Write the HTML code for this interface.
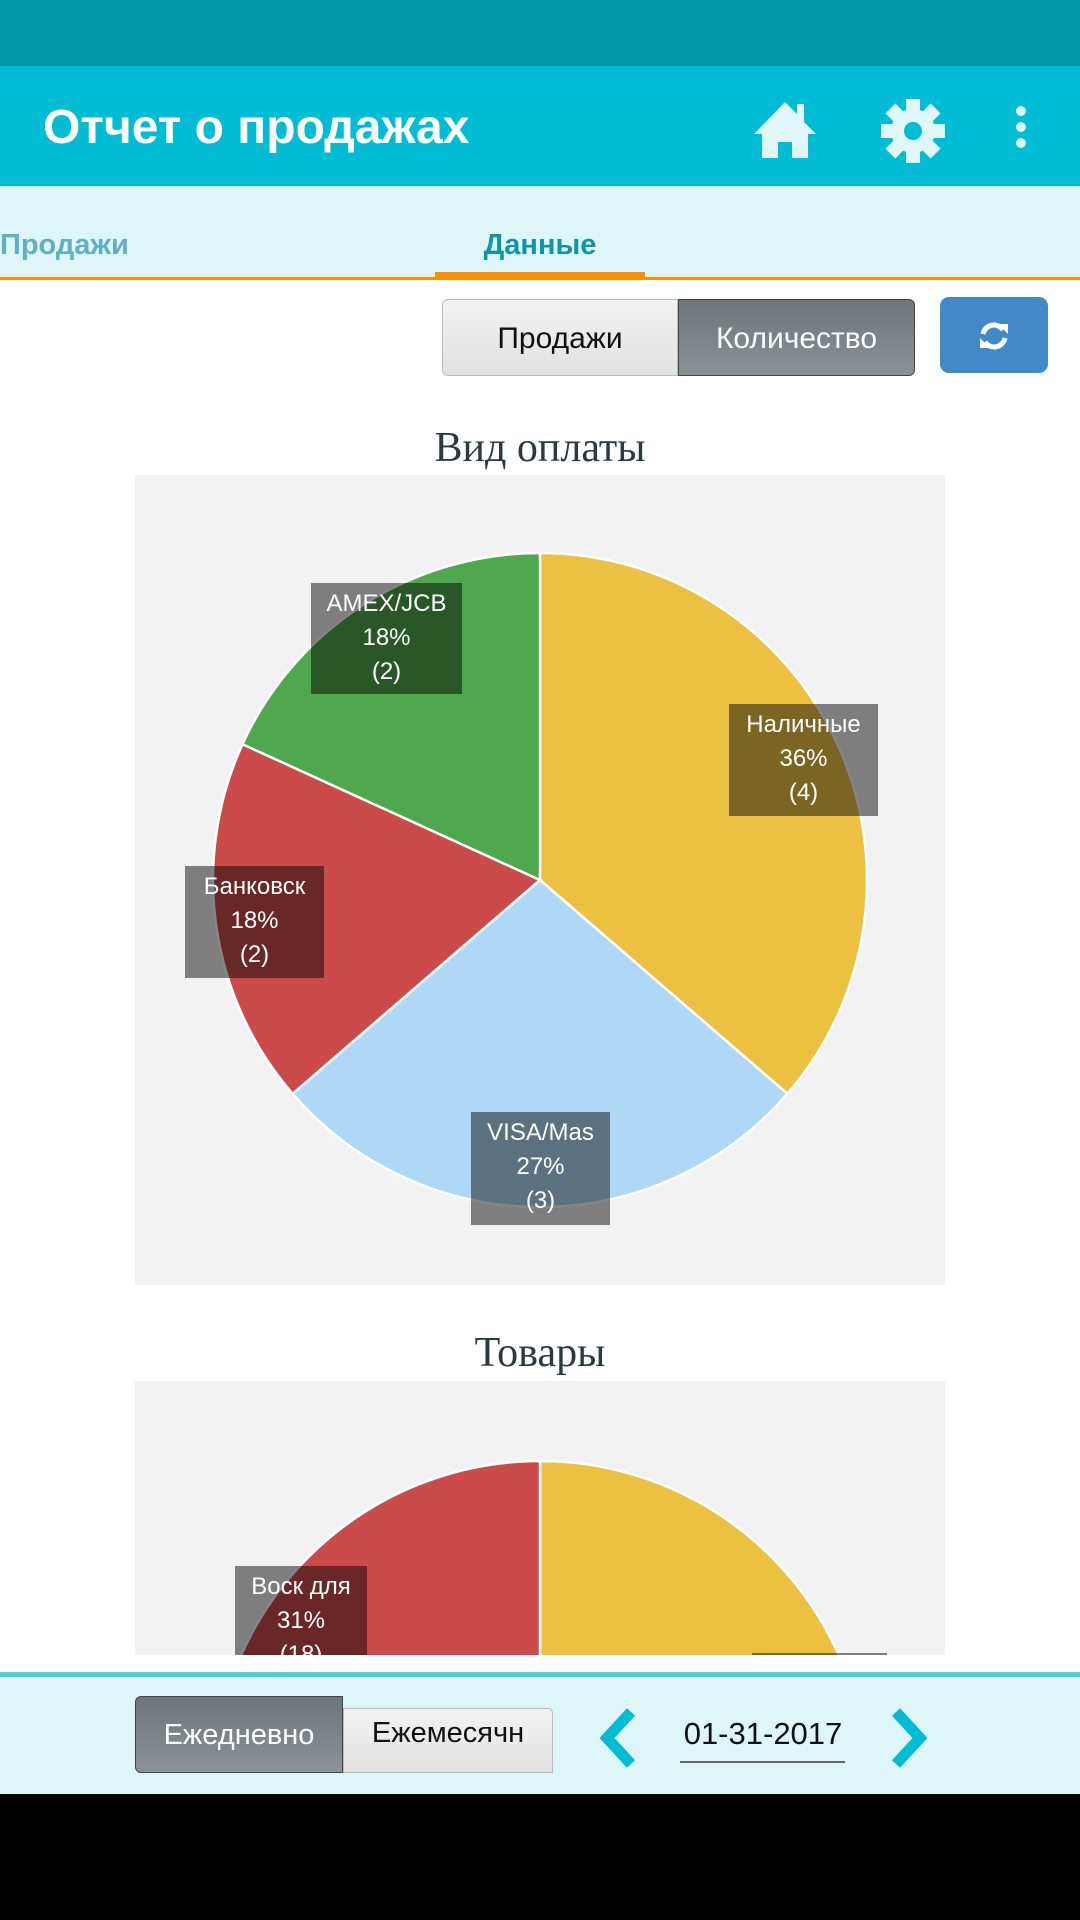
<!DOCTYPE html>
<html><head><meta charset="utf-8"><style>
*{margin:0;padding:0;box-sizing:border-box}
body{width:1080px;height:1920px;position:relative;background:#fff;font-family:"Liberation Sans","DejaVu Sans",sans-serif;overflow:hidden}
.abs{position:absolute}
.lbl{position:absolute;background:rgba(0,0,0,0.48);color:#fff;font-size:24px;line-height:34px;text-align:center;padding-top:4px;overflow:hidden}
</style></head><body>
<div class="abs" style="left:0;top:0;width:1080px;height:66px;background:#0097a7"></div>
<div class="abs" style="left:0;top:66px;width:1080px;height:120px;background:#00bcd4"></div>
<div class="abs" style="left:43px;top:98px;color:#fff;font-size:48px;font-weight:bold;line-height:60px">Отчет о продажах</div>
<svg class="abs" style="left:750px;top:98px" width="70" height="62" viewBox="0 0 70 62">
<path d="M35 4 L4 36 L12 36 L12 60 L28 60 L28 44 L42 44 L42 60 L58 60 L58 36 L66 36 L54 24 L54 6 L47 6 L47 16 Z" fill="#e0f7fa"/>
</svg>
<svg class="abs" style="left:880px;top:98px" width="66" height="66" viewBox="-33 -33 66 66">
<g fill="#e0f7fa"><circle r="22"/>
<g id="t"><rect x="-7" y="-32" width="14" height="14"/></g>
<use href="#t" transform="rotate(45)"/><use href="#t" transform="rotate(90)"/><use href="#t" transform="rotate(135)"/><use href="#t" transform="rotate(180)"/><use href="#t" transform="rotate(225)"/><use href="#t" transform="rotate(270)"/><use href="#t" transform="rotate(315)"/></g>
<circle r="9" fill="#00bcd4"/></svg>
<div class="abs" style="left:1016px;top:106px;width:10px;height:10px;border-radius:5px;background:#e0f7fa"></div>
<div class="abs" style="left:1016px;top:122px;width:10px;height:10px;border-radius:5px;background:#e0f7fa"></div>
<div class="abs" style="left:1016px;top:138px;width:10px;height:10px;border-radius:5px;background:#e0f7fa"></div>

<div class="abs" style="left:0;top:186px;width:1080px;height:93px;background:#dff6f8"></div>
<div class="abs" style="left:0;top:229px;color:#5fb0c0;font-size:29px;font-weight:bold">Продажи</div>
<div class="abs" style="left:435px;top:229px;width:210px;text-align:center;color:#0f96a6;font-size:29px;font-weight:bold">Данные</div>
<div class="abs" style="left:435px;top:272px;width:210px;height:7px;background:#ff8f00"></div>
<div class="abs" style="left:0;top:277px;width:1080px;height:3px;background:#ff8f00"></div>

<div class="abs" style="left:442px;top:299px;width:236px;height:77px;border:1px solid #bbb;border-radius:6px 0 0 6px;background:linear-gradient(#f2f2f2,#e2e2e2);color:#111;font-size:30px;line-height:77px;text-align:center">Продажи</div>
<div class="abs" style="left:678px;top:299px;width:237px;height:77px;border:1px solid #444;border-radius:0 6px 6px 0;background:linear-gradient(#6f7579,#8a9398);color:#fff;font-size:30px;line-height:77px;text-align:center">Количество</div>
<div class="abs" style="left:940px;top:297px;width:108px;height:76px;border-radius:9px;background:#4289c9"></div>
<svg class="abs" style="left:976px;top:318px" width="36" height="36" viewBox="-18 -18 36 36"><g fill="none" stroke="#fff" stroke-width="5"><path d="M-11 -2 A11 11 0 0 1 9 -6"/><path d="M11 2 A11 11 0 0 1 -9 6"/></g><path d="M4 -12 L14 -12 L14 -2 Z" fill="#fff"/><path d="M-4 12 L-14 12 L-14 2 Z" fill="#fff"/></svg>

<div class="abs" style="left:0;top:424px;width:1080px;text-align:center;font-family:'Liberation Serif',serif;font-size:42px;color:#2a3a40">Вид оплаты</div>
<div class="abs" style="left:135px;top:475px;width:810px;height:810px;background:#f2f2f2"></div>
<svg class="abs" style="left:0;top:0" width="1080" height="1300">
<g stroke="#fff" stroke-width="2.5">
<path d="M540 880 L540 553 A327 327 0 0 1 787.4 1093.8 Z" fill="#ecc141"/>
<path d="M540 880 L787.4 1093.8 A327 327 0 0 1 292.6 1093.8 Z" fill="#aed8f6"/>
<path d="M540 880 L292.6 1093.8 A327 327 0 0 1 242.5 744.2 Z" fill="#cb4b4b"/>
<path d="M540 880 L242.5 744.2 A327 327 0 0 1 540 553 Z" fill="#4fa84e"/>
</g></svg>
<div class="lbl" style="left:311px;top:583px;width:151px;height:111px">AMEX/JCB<br>18%<br>(2)</div>
<div class="lbl" style="left:729px;top:704px;width:149px;height:112px">Наличные<br>36%<br>(4)</div>
<div class="lbl" style="left:185px;top:866px;width:139px;height:112px">Банковск<br>18%<br>(2)</div>
<div class="lbl" style="left:471px;top:1112px;width:139px;height:113px">VISA/Mas<br>27%<br>(3)</div>

<div class="abs" style="left:0;top:1329px;width:1080px;text-align:center;font-family:'Liberation Serif',serif;font-size:42px;color:#2a3a40">Товары</div>
<div class="abs" style="left:135px;top:1381px;width:810px;height:274px;background:#f2f2f2;overflow:hidden">
<svg class="abs" style="left:-135px;top:-1381px" width="1080" height="1920">
<g stroke="#fff" stroke-width="2.5">
<path d="M540 1788 L540 1461 A327 327 0 0 1 867 1788 Z" fill="#ecc141"/>
<path d="M540 1788 L213 1788 A327 327 0 0 1 540 1461 Z" fill="#cb4b4b"/>
</g></svg>
<div class="lbl" style="left:100px;top:185px;width:132px;height:110px">Воск для<br>31%<br>(18)</div>
<div class="lbl" style="left:617px;top:272px;width:135px;height:40px"></div>
</div>

<div class="abs" style="left:0;top:1672px;width:1080px;height:5px;background:#4dd0e1"></div>
<div class="abs" style="left:0;top:1677px;width:1080px;height:117px;background:#dff6f8"></div>
<div class="abs" style="left:0;top:1794px;width:1080px;height:126px;background:#000"></div>
<div class="abs" style="left:343px;top:1708px;width:210px;height:65px;border:1px solid #bbb;border-radius:0 5px 0 0;background:linear-gradient(#f2f2f2,#e2e2e2);color:#111;font-size:29px;line-height:48px;text-align:center;overflow:hidden;white-space:nowrap">Ежемесячн<br>о</div>
<div class="abs" style="left:135px;top:1696px;width:208px;height:77px;border:1px solid #444;border-radius:6px 0 0 6px;background:linear-gradient(#6f7579,#8a9398);color:#fff;font-size:29px;line-height:77px;text-align:center">Ежедневно</div>
<svg class="abs" style="left:595px;top:1708px" width="50" height="60"><path d="M36 4 L12 30 L36 56" fill="none" stroke="#00bcd4" stroke-width="11" stroke-linejoin="miter"/></svg>
<svg class="abs" style="left:882px;top:1708px" width="50" height="60"><path d="M14 4 L38 30 L14 56" fill="none" stroke="#00bcd4" stroke-width="11"/></svg>
<div class="abs" style="left:668px;top:1716px;width:190px;text-align:center;font-size:31px;color:#111">01-31-2017</div>
<div class="abs" style="left:680px;top:1761px;width:165px;height:2px;background:#666"></div>
</body></html>
